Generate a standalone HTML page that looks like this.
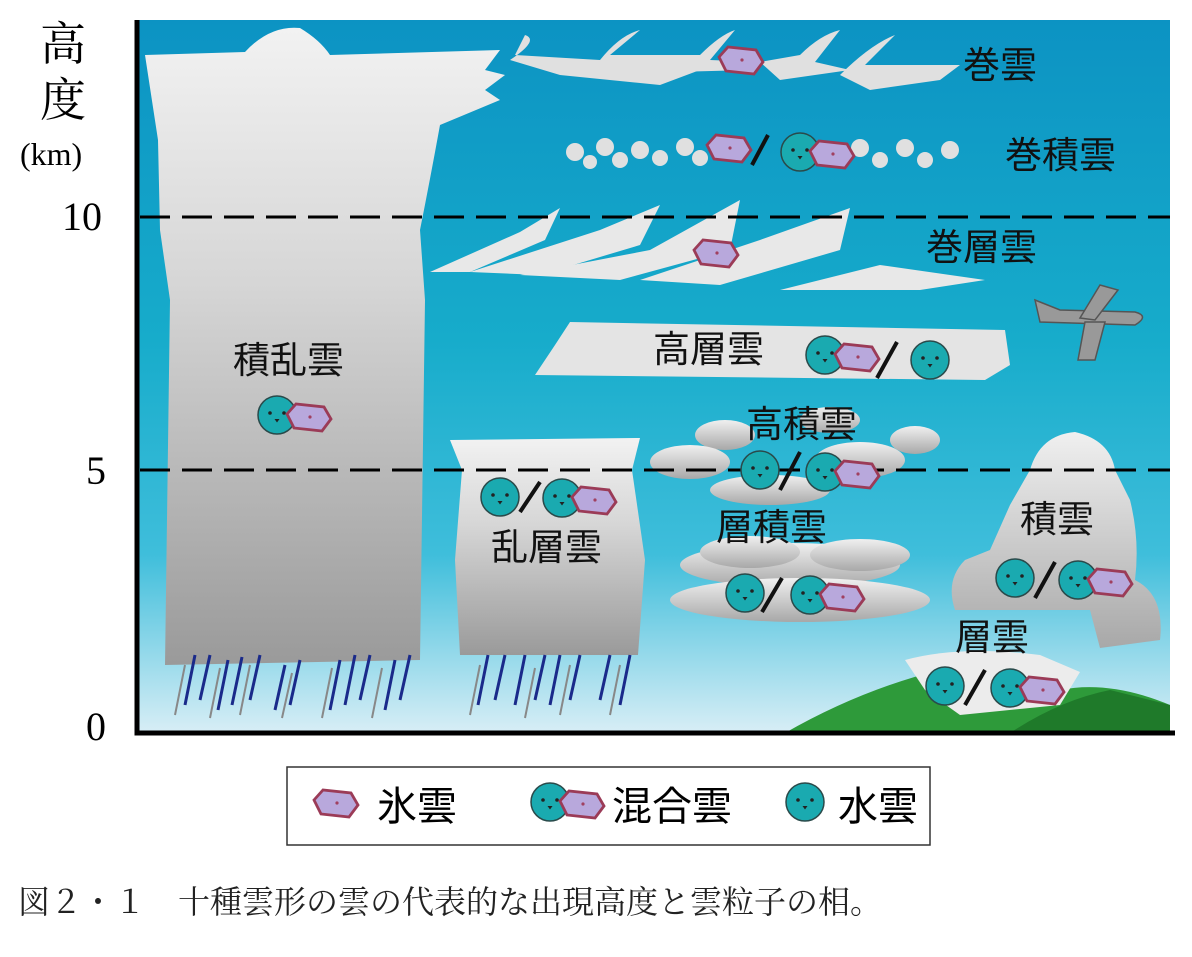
<!DOCTYPE html>
<html><head><meta charset="utf-8"><style>
html,body{margin:0;padding:0;background:#fff;width:1192px;height:957px;overflow:hidden}
text{font-family:"Liberation Sans","Noto Sans CJK JP",sans-serif}
.s{font-family:"Liberation Serif","Noto Serif CJK SC",serif}
</style></head><body>
<svg width="1192" height="957" viewBox="0 0 1192 957" xmlns="http://www.w3.org/2000/svg">
<defs>
<linearGradient id="sky" x1="0" y1="0" x2="0" y2="1">
<stop offset="0" stop-color="#0c93c3"/><stop offset="0.45" stop-color="#17accb"/><stop offset="0.75" stop-color="#3fbedb"/><stop offset="1" stop-color="#d8eef6"/></linearGradient>
<linearGradient id="cb" x1="0" y1="0" x2="0" y2="1">
<stop offset="0" stop-color="#f2f2f2"/><stop offset="0.4" stop-color="#d6d6d6"/><stop offset="1" stop-color="#9a9a9a"/></linearGradient>
<linearGradient id="cl" x1="0" y1="0" x2="0" y2="1">
<stop offset="0" stop-color="#f0f0f0"/><stop offset="1" stop-color="#a8a8a8"/></linearGradient>
<g id="w"><circle r="19" fill="#1aaab0" stroke="#2a4a4a" stroke-width="1.5"/><circle cx="-7" cy="-2" r="1.8" fill="#222"/><circle cx="7" cy="-2" r="1.8" fill="#222"/><path d="M-2.5 4h5l-2.5 3.5z" fill="#222"/></g>
<g id="i"><path d="M-21 -5 L-12 -15 L16 -12 L23 0 L14 12 L-14 9 Z" fill="#b8a8dc" stroke="#9b3b57" stroke-width="2.8"/><circle cx="2" cy="-2" r="1.6" fill="#a04060"/></g>
<g id="m"><use href="#w"/><use href="#i" x="31" y="4"/></g>
</defs>
<rect x="137" y="20" width="1033" height="713" fill="url(#sky)"/>
<path d="M785 733 Q860 690 940 670 Q1000 660 1060 690 Q1110 680 1170 705 L1170 733Z" fill="#2e9a3a"/>
<path d="M1010 733 Q1060 700 1110 690 L1170 705 L1170 733Z" fill="#1f7a2a"/>
<path d="M145 55 L245 52 Q270 25 300 28 Q320 40 330 55 L500 50 L485 70 L505 75 L485 90 L500 100 L440 125 Q430 180 420 230 L425 300 L420 660 L165 665 L170 300 L160 230 L158 140 Z" fill="url(#cb)"/>
<path d="M450 440 L640 438 L632 470 L645 560 L638 655 L460 655 L455 560 L462 470 Z" fill="url(#cb)"/>
<g stroke="#1a2a8a" stroke-width="3">
<path d="M185 705l10-50M200 700l10-45M218 710l10-50M232 705l10-48M250 700l10-45M275 710l10-45M290 705l10-45M330 710l10-50M345 705l10-50M360 700l10-45M385 710l10-50M400 700l10-45M478 705l10-50M495 700l10-45M515 705l10-50M535 700l10-45M550 705l10-50M570 700l10-45M600 700l10-45M620 705l10-50"/></g>
<g stroke="#888" stroke-width="2">
<path d="M175 715l10-50M210 718l10-50M240 715l10-50M282 718l10-45M322 718l10-50M372 718l10-50M470 715l10-50M525 718l10-50M560 715l10-50M610 715l10-50"/></g>
<g fill="#e0e0e0">
<path d="M510 60 Q540 40 525 35 L515 55 L600 60 Q620 35 640 30 L610 55 L700 55 Q720 35 735 30 L710 60 L760 62 L750 70 L560 75 Z"/>
<path d="M560 75 L600 65 L700 70 L660 85 Z"/>
<path d="M840 75 Q870 45 895 35 L865 65 L960 65 L940 80 L870 90 Z"/>
<path d="M760 62 L800 55 Q820 35 840 30 L815 62 L850 70 L780 80 Z"/>
</g>
<g fill="#e0e0e0">
<circle cx="575" cy="152" r="9"/><circle cx="605" cy="147" r="9"/><circle cx="640" cy="150" r="9"/><circle cx="660" cy="158" r="8"/><circle cx="685" cy="147" r="9"/><circle cx="700" cy="158" r="8"/><circle cx="620" cy="160" r="8"/><circle cx="860" cy="148" r="9"/><circle cx="880" cy="160" r="8"/><circle cx="905" cy="148" r="9"/><circle cx="925" cy="160" r="8"/><circle cx="950" cy="150" r="9"/><circle cx="590" cy="162" r="7"/>
</g>
<g fill="#e8e8e8">
<path d="M430 272 L520 232 L560 208 L545 240 L470 272 Z"/>
<path d="M470 272 L600 230 L660 205 L640 245 L540 275 Z"/>
<path d="M520 275 L650 250 L740 200 L730 250 L620 280 Z"/>
<path d="M640 280 L760 240 L850 208 L840 250 L720 285 Z"/>
<path d="M780 290 L880 265 L985 280 L920 290 Z"/>
</g>
<path d="M570 322 L1005 330 L1010 365 L985 380 L535 375 L555 345 Z" fill="#e4e4e4"/>
<g fill="url(#cl)">
<ellipse cx="725" cy="435" rx="30" ry="15"/><ellipse cx="690" cy="462" rx="40" ry="17"/><ellipse cx="770" cy="490" rx="60" ry="15"/><ellipse cx="915" cy="440" rx="25" ry="14"/><ellipse cx="860" cy="460" rx="45" ry="18"/><ellipse cx="830" cy="420" rx="30" ry="13"/>
</g>
<g fill="url(#cl)">
<ellipse cx="790" cy="565" rx="110" ry="22"/><ellipse cx="800" cy="600" rx="130" ry="22"/><ellipse cx="750" cy="552" rx="50" ry="16"/><ellipse cx="860" cy="555" rx="50" ry="16"/>
</g>
<path d="M1030 470 Q1040 435 1075 432 Q1110 440 1115 470 L1130 500 Q1140 540 1135 580 Q1165 595 1160 640 L1100 648 L1090 610 L955 610 Q945 580 965 560 L990 550 L1010 505 Z" fill="url(#cl)"/>
<path d="M905 660 Q960 645 1040 655 L1080 672 L1060 705 L960 715 L925 690 Z" fill="#ececec"/>
<g fill="#999" stroke="#555" stroke-width="1.5">
<path d="M1035 300 L1060 310 L1135 312 Q1150 316 1135 325 L1040 322 Z"/>
<path d="M1080 318 L1100 285 L1118 290 L1095 320 Z"/>
<path d="M1085 322 L1078 360 L1095 360 L1105 322 Z"/>
</g>
<g stroke="#000" stroke-width="3" stroke-dasharray="30 12">
<line x1="140" y1="217" x2="1170" y2="217"/><line x1="140" y1="470" x2="1170" y2="470"/></g>
<path d="M137 20 V733 H1175" fill="none" stroke="#000" stroke-width="5"/>
<text x="40" y="60" font-size="46" class="s">高</text>
<text x="40" y="116" font-size="46" class="s">度</text>
<text x="20" y="165" font-size="32" class="s">(km)</text>
<text x="62" y="230" font-size="40" class="s">10</text>
<text x="86" y="484" font-size="40" class="s">5</text>
<text x="86" y="740" font-size="40" class="s">0</text>
<g font-size="37" fill="#111">
<text x="963" y="78">巻雲</text>
<text x="1005" y="168">巻積雲</text>
<text x="926" y="260">巻層雲</text>
<text x="653" y="362">高層雲</text>
<text x="746" y="437">高積雲</text>
<text x="233" y="373">積乱雲</text>
<text x="491" y="560">乱層雲</text>
<text x="716" y="540">層積雲</text>
<text x="1020" y="532">積雲</text>
<text x="955" y="650">層雲</text>
</g>
<g stroke="#111" stroke-width="4">
<line x1="752" y1="165" x2="768" y2="135"/><line x1="877" y1="378" x2="897" y2="342"/><line x1="780" y1="490" x2="800" y2="452"/><line x1="520" y1="512" x2="540" y2="482"/><line x1="762" y1="612" x2="782" y2="578"/><line x1="1035" y1="598" x2="1055" y2="562"/><line x1="965" y1="705" x2="985" y2="670"/></g>
<use href="#i" x="740" y="62"/>
<use href="#i" x="728" y="150"/><use href="#m" x="800" y="152"/>
<use href="#i" x="715" y="255"/>
<use href="#m" x="825" y="355"/><use href="#w" x="930" y="360"/>
<use href="#w" x="760" y="470"/><use href="#m" x="825" y="472"/>
<use href="#m" x="277" y="415"/>
<use href="#w" x="500" y="497"/><use href="#m" x="562" y="498"/>
<use href="#w" x="745" y="593"/><use href="#m" x="810" y="595"/>
<use href="#w" x="1015" y="578"/><use href="#m" x="1078" y="580"/>
<use href="#w" x="945" y="686"/><use href="#m" x="1010" y="688"/>
<rect x="287" y="767" width="643" height="78" fill="#fff" stroke="#333" stroke-width="1.5"/>
<use href="#i" x="335" y="805"/><text x="377" y="820" font-size="40">氷雲</text>
<use href="#m" x="550" y="802"/><text x="612" y="820" font-size="40">混合雲</text>
<use href="#w" x="805" y="802"/><text x="838" y="820" font-size="40">水雲</text>
<text x="18" y="913" font-size="32" class="s" fill="#222">図２・１　十種雲形の雲の代表的な出現高度と雲粒子の相。</text>
</svg>
</body></html>
